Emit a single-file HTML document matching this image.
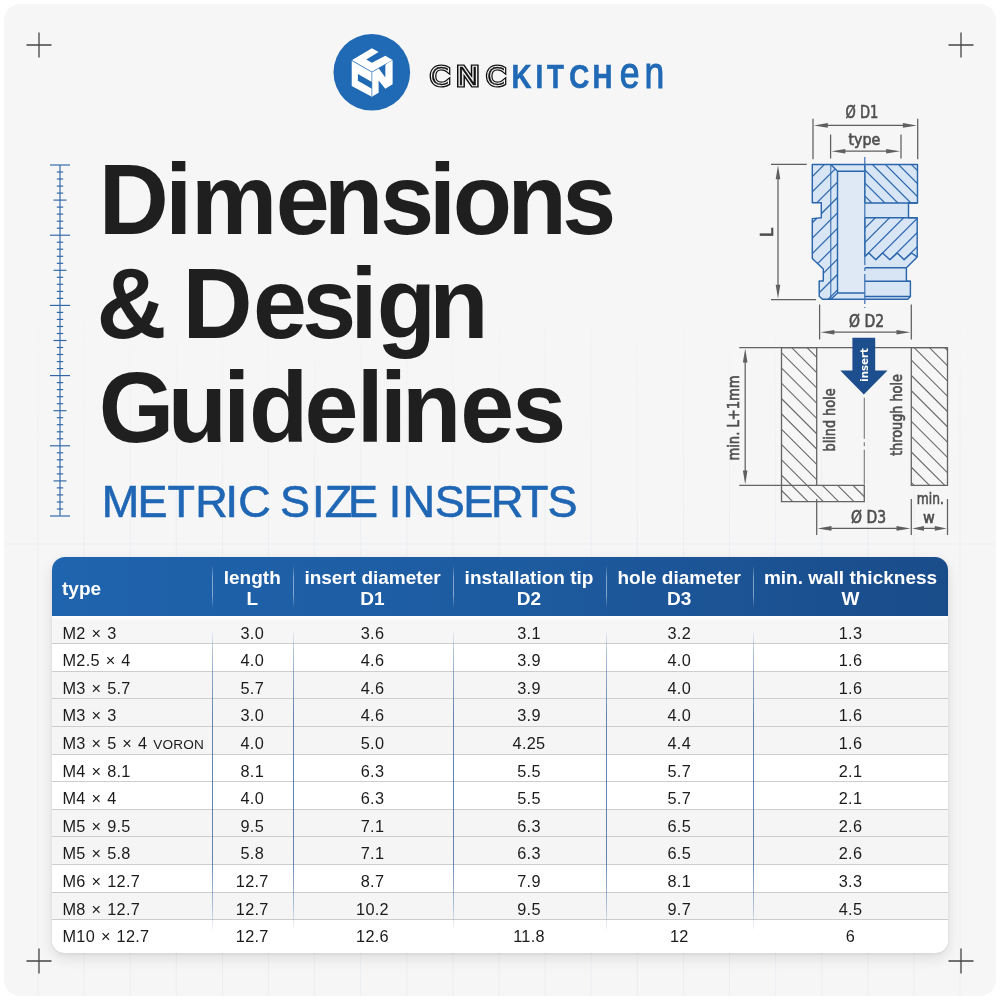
<!DOCTYPE html>
<html><head><meta charset="utf-8">
<style>
*{margin:0;padding:0;box-sizing:border-box}
html,body{width:1000px;height:1000px;background:#fff;overflow:hidden}
body{position:relative;font-family:"Liberation Sans",Arial,sans-serif;color:#222}
.frame{position:absolute;left:4px;top:4px;width:992px;height:992px;border-radius:16px;background:#f6f6f6;overflow:hidden}
.abs{position:absolute;white-space:nowrap}
#card{position:absolute;left:52px;top:557px;width:896px;height:395.5px;border-radius:13px;background:#fff;overflow:hidden;box-shadow:0 5px 14px rgba(0,0,0,0.11),0 1px 3px rgba(0,0,0,0.07)}
#head{position:absolute;left:0;top:0;width:896px;height:59px;background:linear-gradient(90deg,#1f64ae 0%,#1d5a9e 55%,#1a4c8a 100%)}
.hc{position:absolute;top:0;height:59px;color:#fff;font-weight:700;font-size:19px;letter-spacing:0;line-height:20.7px;text-align:center;padding-top:10.8px}
.hsep{position:absolute;top:8px;width:1px;height:43px;background:linear-gradient(180deg,rgba(255,255,255,0) 0%,rgba(255,255,255,.45) 30%,rgba(255,255,255,.45) 70%,rgba(255,255,255,0) 100%)}
.row{position:absolute;left:0;width:896px;border-bottom:1px solid #cdcdcd}
.row.g{background:#f5f5f5}
.row.first{background:linear-gradient(180deg,#fff 0px,#f6f6f6 5px)}
.row.w{background:#fff}
.c{position:absolute;top:0;font-size:16.3px;letter-spacing:0.3px;text-align:center;color:#1c1c1c}
.vor{font-size:13.6px;letter-spacing:0.2px}
.vsep{position:absolute;top:59px;width:1px;height:336px;background:linear-gradient(180deg,rgba(100,135,180,0) 0%,rgba(100,135,180,0) 4%,rgba(100,135,180,.5) 10%,rgba(85,122,170,.92) 30%,rgba(85,122,170,.92) 72%,rgba(100,135,180,.5) 86%,rgba(100,135,180,0) 94%)}
</style></head><body>
<div class="frame"></div>

<svg class="abs" style="left:0;top:0" width="1000" height="1000" viewBox="0 0 1000 1000" id="gfx">


<!-- background grid -->
<mask id="gm"><rect x="0" y="0" width="1000" height="1000" fill="url(#gfade)"/></mask>
<linearGradient id="gfade" x1="0" y1="0" x2="0" y2="1"><stop offset="0.3" stop-color="#000"/><stop offset="0.52" stop-color="#fff"/><stop offset="1" stop-color="#fff"/></linearGradient>
<g stroke="#ebeef2" stroke-width="1" mask="url(#gm)">
<path d="M38.0 4V996"/>
<path d="M84.1 4V996"/>
<path d="M130.2 4V996"/>
<path d="M176.3 4V996"/>
<path d="M222.4 4V996"/>
<path d="M268.5 4V996"/>
<path d="M314.6 4V996"/>
<path d="M360.7 4V996"/>
<path d="M406.8 4V996"/>
<path d="M452.9 4V996"/>
<path d="M499.0 4V996"/>
<path d="M545.1 4V996"/>
<path d="M591.2 4V996"/>
<path d="M637.3 4V996"/>
<path d="M683.4 4V996"/>
<path d="M729.5 4V996"/>
<path d="M775.6 4V996"/>
<path d="M821.7 4V996"/>
<path d="M867.8 4V996"/>
<path d="M913.9 4V996"/>
<path d="M960.0 4V996"/>
<path d="M4 544H996"/>
</g>

<!-- crosshairs -->
<g stroke="#444" stroke-width="1.3">
  <path d="M26.5 45H51.5M39 32.5V57.5"/>
  <path d="M948.5 45H973.5M961 32.5V57.5"/>
  <path d="M26.5 961H51.5M39 948.5V973.5"/>
  <path d="M948.5 961H973.5M961 948.5V973.5"/>
</g>

<!-- ruler -->
<g stroke="#2f66a6" stroke-width="1.15" id="ruler"><path d="M60 165.0V515.8"/>
<path d="M50.0 165.0H70.0"/>
<path d="M56.8 172.0H63.2"/>
<path d="M56.8 179.0H63.2"/>
<path d="M56.8 186.1H63.2"/>
<path d="M56.8 193.1H63.2"/>
<path d="M53.5 200.1H66.5"/>
<path d="M56.8 207.1H63.2"/>
<path d="M56.8 214.1H63.2"/>
<path d="M56.8 221.2H63.2"/>
<path d="M56.8 228.2H63.2"/>
<path d="M50.0 235.2H70.0"/>
<path d="M56.8 242.2H63.2"/>
<path d="M56.8 249.2H63.2"/>
<path d="M56.8 256.3H63.2"/>
<path d="M56.8 263.3H63.2"/>
<path d="M53.5 270.3H66.5"/>
<path d="M56.8 277.3H63.2"/>
<path d="M56.8 284.3H63.2"/>
<path d="M56.8 291.4H63.2"/>
<path d="M56.8 298.4H63.2"/>
<path d="M50.0 305.4H70.0"/>
<path d="M56.8 312.4H63.2"/>
<path d="M56.8 319.4H63.2"/>
<path d="M56.8 326.5H63.2"/>
<path d="M56.8 333.5H63.2"/>
<path d="M53.5 340.5H66.5"/>
<path d="M56.8 347.5H63.2"/>
<path d="M56.8 354.5H63.2"/>
<path d="M56.8 361.6H63.2"/>
<path d="M56.8 368.6H63.2"/>
<path d="M50.0 375.6H70.0"/>
<path d="M56.8 382.6H63.2"/>
<path d="M56.8 389.6H63.2"/>
<path d="M56.8 396.7H63.2"/>
<path d="M56.8 403.7H63.2"/>
<path d="M53.5 410.7H66.5"/>
<path d="M56.8 417.7H63.2"/>
<path d="M56.8 424.7H63.2"/>
<path d="M56.8 431.8H63.2"/>
<path d="M56.8 438.8H63.2"/>
<path d="M50.0 445.8H70.0"/>
<path d="M56.8 452.8H63.2"/>
<path d="M56.8 459.8H63.2"/>
<path d="M56.8 466.9H63.2"/>
<path d="M56.8 473.9H63.2"/>
<path d="M53.5 480.9H66.5"/>
<path d="M56.8 487.9H63.2"/>
<path d="M56.8 494.9H63.2"/>
<path d="M56.8 502.0H63.2"/>
<path d="M56.8 509.0H63.2"/>
<path d="M50.0 516.0H70.0"/></g>

<!-- logo -->
<circle cx="371.8" cy="72.3" r="38.3" fill="#1f69b5"/>
<g transform="translate(345,44) scale(0.05602)">
  <path fill="#fff" d="M120,290 L480,75 L600,143 L380,275 L480,335 L720,211 L850,285 L480,500 Z"/>
  <path fill="#fff" d="M480,505 L600,435 L600,435 L720,600 L720,365 L850,290 L850,720 L720,797 L600,650 L600,870 L480,940 Z"/>
  <path fill="#fff" d="M120,300 L480,505 L480,680 L230,535 L230,655 L480,800 L480,940 L120,750 Z"/>
  <path d="M125,295 L480,500 L745,350 M480,505 V930" stroke="#2a6db5" stroke-width="13" fill="none" opacity="0.85"/>
</g>
<text x="400.99" y="85.2" transform="scale(1.0724,1)" font-family="DejaVu Sans, sans-serif" font-weight="200" font-size="25.6" stroke-linejoin="miter" fill="#0d0d0d" stroke="#0d0d0d" stroke-width="5.0">C</text>
<text x="400.99" y="85.2" transform="scale(1.0724,1)" font-family="DejaVu Sans, sans-serif" font-weight="200" font-size="25.6" stroke-linejoin="miter" fill="#f6f6f6" stroke="#f6f6f6" stroke-width="2.6">C</text>
<text x="400.99" y="85.2" transform="scale(1.0724,1)" font-family="DejaVu Sans, sans-serif" font-weight="200" font-size="25.6" stroke-linejoin="miter" fill="#0d0d0d" stroke="#0d0d0d" stroke-width="0.45">C</text>
<text x="361.09" y="85.2" transform="scale(1.2635,1)" font-family="DejaVu Sans, sans-serif" font-weight="200" font-size="25.6" stroke-linejoin="miter" fill="#0d0d0d" stroke="#0d0d0d" stroke-width="5.0">N</text>
<text x="361.09" y="85.2" transform="scale(1.2635,1)" font-family="DejaVu Sans, sans-serif" font-weight="200" font-size="25.6" stroke-linejoin="miter" fill="#f6f6f6" stroke="#f6f6f6" stroke-width="2.6">N</text>
<text x="361.09" y="85.2" transform="scale(1.2635,1)" font-family="DejaVu Sans, sans-serif" font-weight="200" font-size="25.6" stroke-linejoin="miter" fill="#0d0d0d" stroke="#0d0d0d" stroke-width="0.45">N</text>
<text x="459.75" y="85.2" transform="scale(1.0578,1)" font-family="DejaVu Sans, sans-serif" font-weight="200" font-size="25.6" stroke-linejoin="miter" fill="#0d0d0d" stroke="#0d0d0d" stroke-width="5.0">C</text>
<text x="459.75" y="85.2" transform="scale(1.0578,1)" font-family="DejaVu Sans, sans-serif" font-weight="200" font-size="25.6" stroke-linejoin="miter" fill="#f6f6f6" stroke="#f6f6f6" stroke-width="2.6">C</text>
<text x="459.75" y="85.2" transform="scale(1.0578,1)" font-family="DejaVu Sans, sans-serif" font-weight="200" font-size="25.6" stroke-linejoin="miter" fill="#0d0d0d" stroke="#0d0d0d" stroke-width="0.45">C</text>
<text x="609.07 637.52 651.19 677.81 705.26" y="88" transform="scale(0.84,1)" font-family="Liberation Sans, Arial, sans-serif" font-weight="700" font-size="33" fill="#1f69b5" stroke="#1f69b5" stroke-width="0.6">KITCH</text>
<text x="774.60 805.58" y="88" transform="scale(0.8,1)" font-family="Liberation Sans, Arial, sans-serif" font-size="44.5" fill="#1f69b5" stroke="#1f69b5" stroke-width="1.1">en</text>

<!-- ===== insert drawing ===== -->
<g id="insert">
<defs>
<clipPath id="cL"><path d="M812.3 164.5H830.8L837.5 171.3V293L830.8 299.3H822.5L819.2 296.3V281H823.3V269L812.3 258.5V218.6L821.3 217.8V202.8H812.3Z"/></clipPath>
<clipPath id="cT"><path d="M864.8 164.5H917.5V203H864.8Z"/></clipPath>
<clipPath id="cM"><path d="M864.8 217.8H917.2V256.9L911.5 253L904.1 259.8L897.3 253L889.9 259.8L882.6 253L875.8 259.8L868.9 253L864.8 256.5Z"/></clipPath>
</defs>
<path d="M812.3 164.5H917.5V203H908.5V217.8H917.2V256.9L906.4 267.7V281.2H910.4V296.5L907.7 299.3H822.5L819.2 296.3V281H823.3V269L812.3 258.5V218.6L821.3 217.8V202.8H812.3Z" fill="#d8e5f4"/>
<path d="M837.5 171.3H864.8V293H837.5Z" fill="#dfe9f6"/>
<path d="M805.0 137.6L845.0 97.6M805.0 153.0L845.0 113.0M805.0 168.4L845.0 128.4M805.0 183.8L845.0 143.8M805.0 199.2L845.0 159.2M805.0 214.6L845.0 174.6M805.0 230.0L845.0 190.0M805.0 245.4L845.0 205.4M805.0 260.8L845.0 220.8M805.0 276.2L845.0 236.2M805.0 291.6L845.0 251.6M805.0 307.0L845.0 267.0M805.0 322.4L845.0 282.4M805.0 337.8L845.0 297.8M805.0 353.2L845.0 313.2M805.0 368.6L845.0 328.6" stroke="#2f69ae" stroke-width="1.25" fill="none" clip-path="url(#cL)"/>
<path d="M860.0 74.1L922.0 136.1M860.0 87.1L922.0 149.1M860.0 100.1L922.0 162.1M860.0 113.1L922.0 175.1M860.0 126.1L922.0 188.1M860.0 139.1L922.0 201.1M860.0 152.1L922.0 214.1M860.0 165.1L922.0 227.1M860.0 178.1L922.0 240.1M860.0 191.1L922.0 253.1M860.0 204.1L922.0 266.1M860.0 217.1L922.0 279.1M860.0 230.1L922.0 292.1" stroke="#2f69ae" stroke-width="1.25" fill="none" clip-path="url(#cT)"/>
<path d="M860.0 190.7L922.0 128.7M860.0 204.8L922.0 142.8M860.0 219.0L922.0 157.0M860.0 233.1L922.0 171.1M860.0 247.3L922.0 185.3M860.0 261.4L922.0 199.4M860.0 275.6L922.0 213.6M860.0 289.8L922.0 227.8M860.0 303.9L922.0 241.9M860.0 318.0L922.0 256.0M860.0 332.2L922.0 270.2M860.0 346.3L922.0 284.3" stroke="#2f69ae" stroke-width="1.25" fill="none" clip-path="url(#cM)"/>
<g fill="none" stroke="#2a66ac" stroke-width="1.45" stroke-linejoin="round">
<path d="M812.3 164.5H917.5V203H908.5V217.8H917.2V256.9L906.4 267.7V281.2H910.4V296.5L907.7 299.3H822.5L819.2 296.3V281H823.3V269L812.3 258.5V218.6L821.3 217.8V202.8H812.3Z"/>
<path d="M830.8 164.5L837.5 171.3H864.8M837.5 171.3V293H864.8M837.5 293L830.8 299.3"/>
<path d="M864.8 203H917.5M864.8 217.8H917.2M864.8 164.5V203M864.8 217.8V256.5"/>
<path d="M864.8 256.5L868.9 253L875.8 259.8L882.6 253L889.9 259.8L897.3 253L904.1 259.8L911.5 253L917.2 256.9"/>
<path d="M864.8 267.7H906.4M864.8 281.2H910.4M864.8 296.5H910.4"/>
</g>
<path d="M830.8 164.5V299.3" stroke="#2a66ac" stroke-width="1" fill="none"/>
<path d="M864.8 157V308" stroke="#3a70b0" stroke-width="1.2" stroke-dasharray="30 3 3 3" fill="none"/>
<g stroke="#5f5f5f" stroke-width="1.25" fill="none">
<path d="M813 118.8V159.2M917.7 118.8V159.2M830.6 134.5V158.4M901 134.5V158.4"/>
<path d="M826 125.4H905M844 151.2H888"/>
<path d="M771 164.4H806.7M771 299.6H816M778 177V287"/>
</g>
<g fill="#5f5f5f">
<path d="M813.8 125.4L827.8 123.1V127.7Z"/>
<path d="M916.9 125.4L902.9 123.1V127.7Z"/>
<path d="M831.4 151.2L845.4 148.9V153.5Z"/>
<path d="M900.2 151.2L886.2 148.9V153.5Z"/>
<path d="M778 165.2L775.7 179.2H780.3Z"/>
<path d="M778 298.8L775.7 284.8H780.3Z"/>
</g>
<g font-family="DejaVu Sans Condensed, DejaVu Sans, sans-serif" fill="#4f4f4f" stroke="#4f4f4f" stroke-width="0.6">
<text x="845.6" y="117.7" font-size="17.5" textLength="32.8" lengthAdjust="spacingAndGlyphs">Ø D1</text>
<text x="848.5" y="145.4" font-size="16.5" textLength="31.8" lengthAdjust="spacingAndGlyphs">type</text>
<text transform="translate(772.6 232.5) rotate(-90)" text-anchor="middle" font-size="18">L</text>
</g>
</g>
<!-- ===== hole drawing ===== -->
<g id="hole">
<defs>
<clipPath id="hL"><path d="M781.5 347.7H816.7V485.4H864.3V501.6H781.5Z"/></clipPath>
<clipPath id="hR"><path d="M911.3 347.7H947.5V485.4H911.3Z"/></clipPath>
</defs>
<path d="M775.0 223.8L870.0 318.8M775.0 239.1L870.0 334.1M775.0 254.4L870.0 349.4M775.0 269.7L870.0 364.7M775.0 285.0L870.0 380.0M775.0 300.3L870.0 395.3M775.0 315.6L870.0 410.6M775.0 330.9L870.0 425.9M775.0 346.2L870.0 441.2M775.0 361.5L870.0 456.5M775.0 376.8L870.0 471.8M775.0 392.1L870.0 487.1M775.0 407.4L870.0 502.4M775.0 422.7L870.0 517.7M775.0 438.0L870.0 533.0M775.0 453.3L870.0 548.3M775.0 468.6L870.0 563.6M775.0 483.9L870.0 578.9M775.0 499.2L870.0 594.2M775.0 514.5L870.0 609.5M775.0 529.8L870.0 624.8" stroke="#6a6a6a" stroke-width="1.1" fill="none" clip-path="url(#hL)"/>
<path d="M905.0 277.3L952.0 324.3M905.0 292.6L952.0 339.6M905.0 307.9L952.0 354.9M905.0 323.2L952.0 370.2M905.0 338.5L952.0 385.5M905.0 353.8L952.0 400.8M905.0 369.1L952.0 416.1M905.0 384.4L952.0 431.4M905.0 399.7L952.0 446.7M905.0 415.0L952.0 462.0M905.0 430.3L952.0 477.3M905.0 445.6L952.0 492.6M905.0 460.9L952.0 507.9M905.0 476.2L952.0 523.2M905.0 491.5L952.0 538.5M905.0 506.8L952.0 553.8" stroke="#6a6a6a" stroke-width="1.1" fill="none" clip-path="url(#hR)"/>
<g fill="none" stroke="#646464" stroke-width="1.3">
<path d="M781.5 347.7H816.7V485.4H864.3V501.6H781.5Z"/>
<path d="M911.3 347.7H947.5V485.4H911.3Z"/>
<path d="M739.2 347.7H947.5M739.2 485.4H816"/>
</g>
<g stroke="#5f5f5f" stroke-width="1.25" fill="none">
<path d="M819.6 304.6V339.4M911.3 304.6V339.4M833 332.2H898"/>
<path d="M745.2 360V473"/>
<path d="M816.7 499V535M911.3 499V535M947.5 499V535M830 528.4H898M922 528.4H937"/>
</g>
<g fill="#5f5f5f">
<path d="M820.4 332.2L834.4 329.9V334.5Z"/>
<path d="M910.5 332.2L896.5 329.9V334.5Z"/>
<path d="M745.2 348.5L742.9 362.5H747.5Z"/>
<path d="M745.2 484.6L742.9 470.6H747.5Z"/>
<path d="M817.5 528.4L831.5 526.1V530.7Z"/>
<path d="M910.5 528.4L896.5 526.1V530.7Z"/>
<path d="M912.1 528.4L924 526.1V530.7Z"/>
<path d="M946.7 528.4L934.8 526.1V530.7Z"/>
</g>
<path d="M864.3 397.8V484.6" stroke="#777" stroke-width="1.1" stroke-dasharray="41 3.5 4 3.5 40" fill="none"/>
<path d="M852.4 337.7H875.2V370.6H887.5L863.8 394.4L840.3 370.6H852.4Z" fill="#1d4e8e"/>
<text transform="translate(868.3 365) rotate(-90)" text-anchor="middle" font-family="DejaVu Sans Condensed, DejaVu Sans, sans-serif" font-weight="700" font-size="11.3" fill="#fff">insert</text>
<g font-family="DejaVu Sans Condensed, DejaVu Sans, sans-serif" fill="#4f4f4f" stroke="#4f4f4f" stroke-width="0.6">
<text x="849" y="327.4" font-size="17.5" textLength="35" lengthAdjust="spacingAndGlyphs">Ø D2</text>
<text x="851" y="523" font-size="17.5" textLength="35" lengthAdjust="spacingAndGlyphs">Ø D3</text>
<text x="916.8" y="504" font-size="16" textLength="27" lengthAdjust="spacingAndGlyphs">min.</text>
<text x="928.8" y="523" font-size="16" text-anchor="middle">w</text>
<text transform="translate(739.3 418) rotate(-90)" text-anchor="middle" font-size="16" textLength="85" lengthAdjust="spacingAndGlyphs">min. L+1mm</text>
<text transform="translate(835.4 420) rotate(-90)" text-anchor="middle" font-size="16" textLength="63" lengthAdjust="spacingAndGlyphs">blind hole</text>
<text transform="translate(902 415) rotate(-90)" text-anchor="middle" font-size="16" textLength="81.6" lengthAdjust="spacingAndGlyphs">through hole</text>
</g>
</g>
</svg>

<svg class="abs" style="left:0;top:0" width="1000" height="1000" viewBox="0 0 1000 1000"><text x="98.7 165.2 191.1 275.8 324.1 380.3 429.1 452.7 507.5 562.3" y="226.99" transform="scale(1,1.03)" font-family="Liberation Sans, Arial, sans-serif" font-weight="700" font-size="97" fill="#1f1f1f">Dimensions</text>
<text x="96.5 106.5 182.4 253.0 302.3 350.5 376.8 429.2" y="327.96" transform="scale(1,1.03)" font-family="Liberation Sans, Arial, sans-serif" font-weight="700" font-size="97" fill="#1f1f1f">&amp; Design</text>
<text x="98.7 167.7 223.3 249.0 304.4 356.7 380.1 402.0 460.2 512.3" y="428.93" transform="scale(1,1.03)" font-family="Liberation Sans, Arial, sans-serif" font-weight="700" font-size="97" fill="#1f1f1f">Guidelines</text>
<text x="101.7 137.4 167.6 195.2 225.5 238.3 248.3 280.0 311.9 324.8 348.0 358.0 388.7 402.6 434.8 463.2 491.0 521.0 547.6" y="517" font-family="Liberation Sans, Arial, sans-serif" font-size="45" fill="#1f66b4" stroke="#1f66b4" stroke-width="0.6">METRIC SIZE INSERTS</text></svg>

<div id="card">
  <div id="head">
    <div class="hc" style="left:10px;width:150px;text-align:left;padding-top:21.7px">type</div>
    <div class="hc" style="left:160px;width:80.5px">length<br>L</div>
    <div class="hc" style="left:240.5px;width:160px">insert diameter<br>D1</div>
    <div class="hc" style="left:400.5px;width:153px">installation tip<br>D2</div>
    <div class="hc" style="left:553.5px;width:147.5px">hole diameter<br>D3</div>
    <div class="hc" style="left:701px;width:195px">min. wall thickness<br>W</div>
    <div class="hsep" style="left:160px"></div>
    <div class="hsep" style="left:240.5px"></div>
    <div class="hsep" style="left:400.5px"></div>
    <div class="hsep" style="left:553.5px"></div>
    <div class="hsep" style="left:701px"></div>
  </div>
  <div id="rows">
<div class="row g first" style="top:59.0px;height:28.1px;"><div class="c" style="left:10.5px;text-align:left;top:7.8px;line-height:18px;word-spacing:1px">M2 × 3</div><div class="c" style="left:160px;width:80.5px;top:7.8px;line-height:18px">3.0</div><div class="c" style="left:240.5px;width:160.0px;top:7.8px;line-height:18px">3.6</div><div class="c" style="left:400.5px;width:153.0px;top:7.8px;line-height:18px">3.1</div><div class="c" style="left:553.5px;width:147.5px;top:7.8px;line-height:18px">3.2</div><div class="c" style="left:701px;width:195px;top:7.8px;line-height:18px">1.3</div></div>
<div class="row w" style="top:87.1px;height:27.6px;"><div class="c" style="left:10.5px;text-align:left;top:7.1px;line-height:18px;word-spacing:1px">M2.5 × 4</div><div class="c" style="left:160px;width:80.5px;top:7.1px;line-height:18px">4.0</div><div class="c" style="left:240.5px;width:160.0px;top:7.1px;line-height:18px">4.6</div><div class="c" style="left:400.5px;width:153.0px;top:7.1px;line-height:18px">3.9</div><div class="c" style="left:553.5px;width:147.5px;top:7.1px;line-height:18px">4.0</div><div class="c" style="left:701px;width:195px;top:7.1px;line-height:18px">1.6</div></div>
<div class="row g" style="top:114.7px;height:27.6px;"><div class="c" style="left:10.5px;text-align:left;top:7.1px;line-height:18px;word-spacing:1px">M3 × 5.7</div><div class="c" style="left:160px;width:80.5px;top:7.1px;line-height:18px">5.7</div><div class="c" style="left:240.5px;width:160.0px;top:7.1px;line-height:18px">4.6</div><div class="c" style="left:400.5px;width:153.0px;top:7.1px;line-height:18px">3.9</div><div class="c" style="left:553.5px;width:147.5px;top:7.1px;line-height:18px">4.0</div><div class="c" style="left:701px;width:195px;top:7.1px;line-height:18px">1.6</div></div>
<div class="row g" style="top:142.3px;height:27.6px;"><div class="c" style="left:10.5px;text-align:left;top:7.1px;line-height:18px;word-spacing:1px">M3 × 3</div><div class="c" style="left:160px;width:80.5px;top:7.1px;line-height:18px">3.0</div><div class="c" style="left:240.5px;width:160.0px;top:7.1px;line-height:18px">4.6</div><div class="c" style="left:400.5px;width:153.0px;top:7.1px;line-height:18px">3.9</div><div class="c" style="left:553.5px;width:147.5px;top:7.1px;line-height:18px">4.0</div><div class="c" style="left:701px;width:195px;top:7.1px;line-height:18px">1.6</div></div>
<div class="row g" style="top:170.0px;height:27.6px;"><div class="c" style="left:10.5px;text-align:left;top:7.1px;line-height:18px;word-spacing:1px">M3 × 5 × 4 <span class="vor">VORON</span></div><div class="c" style="left:160px;width:80.5px;top:7.1px;line-height:18px">4.0</div><div class="c" style="left:240.5px;width:160.0px;top:7.1px;line-height:18px">5.0</div><div class="c" style="left:400.5px;width:153.0px;top:7.1px;line-height:18px">4.25</div><div class="c" style="left:553.5px;width:147.5px;top:7.1px;line-height:18px">4.4</div><div class="c" style="left:701px;width:195px;top:7.1px;line-height:18px">1.6</div></div>
<div class="row w" style="top:197.6px;height:27.6px;"><div class="c" style="left:10.5px;text-align:left;top:7.1px;line-height:18px;word-spacing:1px">M4 × 8.1</div><div class="c" style="left:160px;width:80.5px;top:7.1px;line-height:18px">8.1</div><div class="c" style="left:240.5px;width:160.0px;top:7.1px;line-height:18px">6.3</div><div class="c" style="left:400.5px;width:153.0px;top:7.1px;line-height:18px">5.5</div><div class="c" style="left:553.5px;width:147.5px;top:7.1px;line-height:18px">5.7</div><div class="c" style="left:701px;width:195px;top:7.1px;line-height:18px">2.1</div></div>
<div class="row w" style="top:225.2px;height:27.6px;"><div class="c" style="left:10.5px;text-align:left;top:7.1px;line-height:18px;word-spacing:1px">M4 × 4</div><div class="c" style="left:160px;width:80.5px;top:7.1px;line-height:18px">4.0</div><div class="c" style="left:240.5px;width:160.0px;top:7.1px;line-height:18px">6.3</div><div class="c" style="left:400.5px;width:153.0px;top:7.1px;line-height:18px">5.5</div><div class="c" style="left:553.5px;width:147.5px;top:7.1px;line-height:18px">5.7</div><div class="c" style="left:701px;width:195px;top:7.1px;line-height:18px">2.1</div></div>
<div class="row g" style="top:252.8px;height:27.6px;"><div class="c" style="left:10.5px;text-align:left;top:7.1px;line-height:18px;word-spacing:1px">M5 × 9.5</div><div class="c" style="left:160px;width:80.5px;top:7.1px;line-height:18px">9.5</div><div class="c" style="left:240.5px;width:160.0px;top:7.1px;line-height:18px">7.1</div><div class="c" style="left:400.5px;width:153.0px;top:7.1px;line-height:18px">6.3</div><div class="c" style="left:553.5px;width:147.5px;top:7.1px;line-height:18px">6.5</div><div class="c" style="left:701px;width:195px;top:7.1px;line-height:18px">2.6</div></div>
<div class="row g" style="top:280.4px;height:27.6px;"><div class="c" style="left:10.5px;text-align:left;top:7.1px;line-height:18px;word-spacing:1px">M5 × 5.8</div><div class="c" style="left:160px;width:80.5px;top:7.1px;line-height:18px">5.8</div><div class="c" style="left:240.5px;width:160.0px;top:7.1px;line-height:18px">7.1</div><div class="c" style="left:400.5px;width:153.0px;top:7.1px;line-height:18px">6.3</div><div class="c" style="left:553.5px;width:147.5px;top:7.1px;line-height:18px">6.5</div><div class="c" style="left:701px;width:195px;top:7.1px;line-height:18px">2.6</div></div>
<div class="row w" style="top:308.1px;height:27.6px;"><div class="c" style="left:10.5px;text-align:left;top:7.1px;line-height:18px;word-spacing:1px">M6 × 12.7</div><div class="c" style="left:160px;width:80.5px;top:7.1px;line-height:18px">12.7</div><div class="c" style="left:240.5px;width:160.0px;top:7.1px;line-height:18px">8.7</div><div class="c" style="left:400.5px;width:153.0px;top:7.1px;line-height:18px">7.9</div><div class="c" style="left:553.5px;width:147.5px;top:7.1px;line-height:18px">8.1</div><div class="c" style="left:701px;width:195px;top:7.1px;line-height:18px">3.3</div></div>
<div class="row g" style="top:335.7px;height:27.6px;"><div class="c" style="left:10.5px;text-align:left;top:7.1px;line-height:18px;word-spacing:1px">M8 × 12.7</div><div class="c" style="left:160px;width:80.5px;top:7.1px;line-height:18px">12.7</div><div class="c" style="left:240.5px;width:160.0px;top:7.1px;line-height:18px">10.2</div><div class="c" style="left:400.5px;width:153.0px;top:7.1px;line-height:18px">9.5</div><div class="c" style="left:553.5px;width:147.5px;top:7.1px;line-height:18px">9.7</div><div class="c" style="left:701px;width:195px;top:7.1px;line-height:18px">4.5</div></div>
<div class="row w" style="top:363.3px;height:32.2px;border-bottom:none;"><div class="c" style="left:10.5px;text-align:left;top:7.1px;line-height:18px;word-spacing:1px">M10 × 12.7</div><div class="c" style="left:160px;width:80.5px;top:7.1px;line-height:18px">12.7</div><div class="c" style="left:240.5px;width:160.0px;top:7.1px;line-height:18px">12.6</div><div class="c" style="left:400.5px;width:153.0px;top:7.1px;line-height:18px">11.8</div><div class="c" style="left:553.5px;width:147.5px;top:7.1px;line-height:18px">12</div><div class="c" style="left:701px;width:195px;top:7.1px;line-height:18px">6</div></div>
</div>
  <div class="vsep" style="left:160px"></div>
  <div class="vsep" style="left:240.5px"></div>
  <div class="vsep" style="left:400.5px"></div>
  <div class="vsep" style="left:553.5px"></div>
  <div class="vsep" style="left:701px"></div>
</div>
</body></html>
